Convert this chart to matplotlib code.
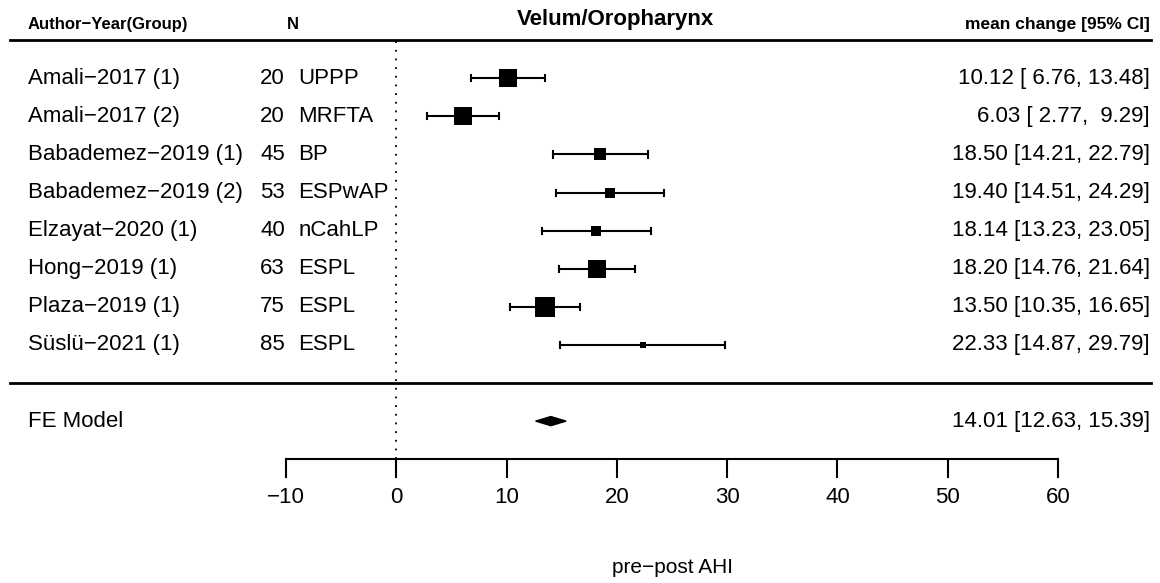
import numpy as np
import matplotlib.pyplot as plt

plt.rcParams['font.family'] = ['Liberation Sans', 'DejaVu Sans']

# study data
studies = ["Amali\u22122017 (1)", "Amali\u22122017 (2)", "Babademez\u22122019 (1)",
           "Babademez\u22122019 (2)", "Elzayat\u22122020 (1)", "Hong\u22122019 (1)",
           "Plaza\u22122019 (1)", "S\u00fcsl\u00fc\u22122021 (1)"]
n_pat = [20, 20, 45, 53, 40, 63, 75, 85]
groups = ["UPPP", "MRFTA", "BP", "ESPwAP", "nCahLP", "ESPL", "ESPL", "ESPL"]
est = [10.12, 6.03, 18.50, 19.40, 18.14, 18.20, 13.50, 22.33]
ci_lo = [6.76, 2.77, 14.21, 14.51, 13.23, 14.76, 10.35, 14.87]
ci_hi = [13.48, 9.29, 22.79, 24.29, 23.05, 21.64, 16.65, 29.79]
fe_est, fe_lo, fe_hi = 14.01, 12.63, 15.39
xticks = [-10, 0, 10, 20, 30, 40, 50, 60]


def square_sizes(lo, hi):
    # metafor style: size scaled by inverse variance weights
    se = (np.array(hi) - np.array(lo)) / (2 * 1.96)
    w = 1 / se**2
    w = w / w.sum()
    return (w - w.min()) / (w.max() - w.min()) + 0.5


def plot_forest():
    fig = plt.figure(figsize=(11.6, 5.83), dpi=100)
    ax = fig.add_axes([0, 0, 1, 1])
    ax.set_xlim(-35.93, 69.24)
    ax.set_ylim(-5.25, 10.055)
    ax.axis('off')

    k = len(studies)
    rows = np.arange(k, 0, -1)
    psize = square_sizes(ci_lo, ci_hi)
    lw = 1.5

    for i in range(k):
        y = rows[i]
        ax.plot([ci_lo[i], ci_hi[i]], [y, y], color='black', lw=lw)
        for xe in (ci_lo[i], ci_hi[i]):
            ax.plot([xe, xe], [y - 0.08, y + 0.08], color='black', lw=lw)
        ax.plot(est[i], y, marker='s', color='black', ms=9.4 * psize[i], mew=0)
        ax.text(-33.4, y, studies[i], fontsize=16, va='center', ha='left')
        ax.text(-10.1, y, str(n_pat[i]), fontsize=16, va='center', ha='right')
        ax.text(-8.9, y, groups[i], fontsize=16, va='center', ha='left')
        ax.text(68.3, y, "{:.2f} [{:>5.2f}, {:>5.2f}]".format(est[i], ci_lo[i], ci_hi[i]),
                fontsize=16, va='center', ha='right')

    # summary diamond
    y_fe = -1
    h = 0.12
    ax.fill([fe_lo, fe_est, fe_hi, fe_est], [y_fe, y_fe + h, y_fe, y_fe - h],
            color='black', lw=1)
    ax.text(-33.4, y_fe, "FE Model", fontsize=16, va='center', ha='left')
    ax.text(68.3, y_fe, "{:.2f} [{:.2f}, {:.2f}]".format(fe_est, fe_lo, fe_hi),
            fontsize=16, va='center', ha='right')

    # horizontal rules
    ax.plot([-35.0, 68.4], [k + 1, k + 1], color='black', lw=2)
    ax.plot([-35.0, 68.4], [0, 0], color='black', lw=2)

    # reference line at zero
    ax.plot([0, 0], [-2, k + 1], color='black', lw=1.3, linestyle=(0, (1, 3.8)))

    # x axis
    y_ax = -2
    ax.plot([xticks[0], xticks[-1]], [y_ax, y_ax], color='black', lw=1.5)
    for t in xticks:
        ax.plot([t, t], [y_ax, y_ax - 0.47], color='black', lw=1.5)
        ax.text(t, y_ax - 1.0, "{:d}".format(t).replace('-', '\u2212'),
                fontsize=16, ha='center', va='center')
    ax.text(25, -4.85, "pre\u2212post AHI", fontsize=15, ha='center', va='center')

    # headers
    ax.text(-33.4, 9.42, "Author\u2212Year(Group)", fontsize=12, fontweight='bold',
            ha='left', va='center')
    ax.text(-9.4, 9.42, "N", fontsize=12, fontweight='bold', ha='center', va='center')
    ax.text(19.9, 9.55, "Velum/Oropharynx", fontsize=16, fontweight='bold',
            ha='center', va='center')
    ax.text(68.3, 9.42, "mean change [95% CI]", fontsize=12.5, fontweight='bold',
            ha='right', va='center')

    fig.savefig("out.png", dpi=100)


if __name__ == '__main__':
    plot_forest()
